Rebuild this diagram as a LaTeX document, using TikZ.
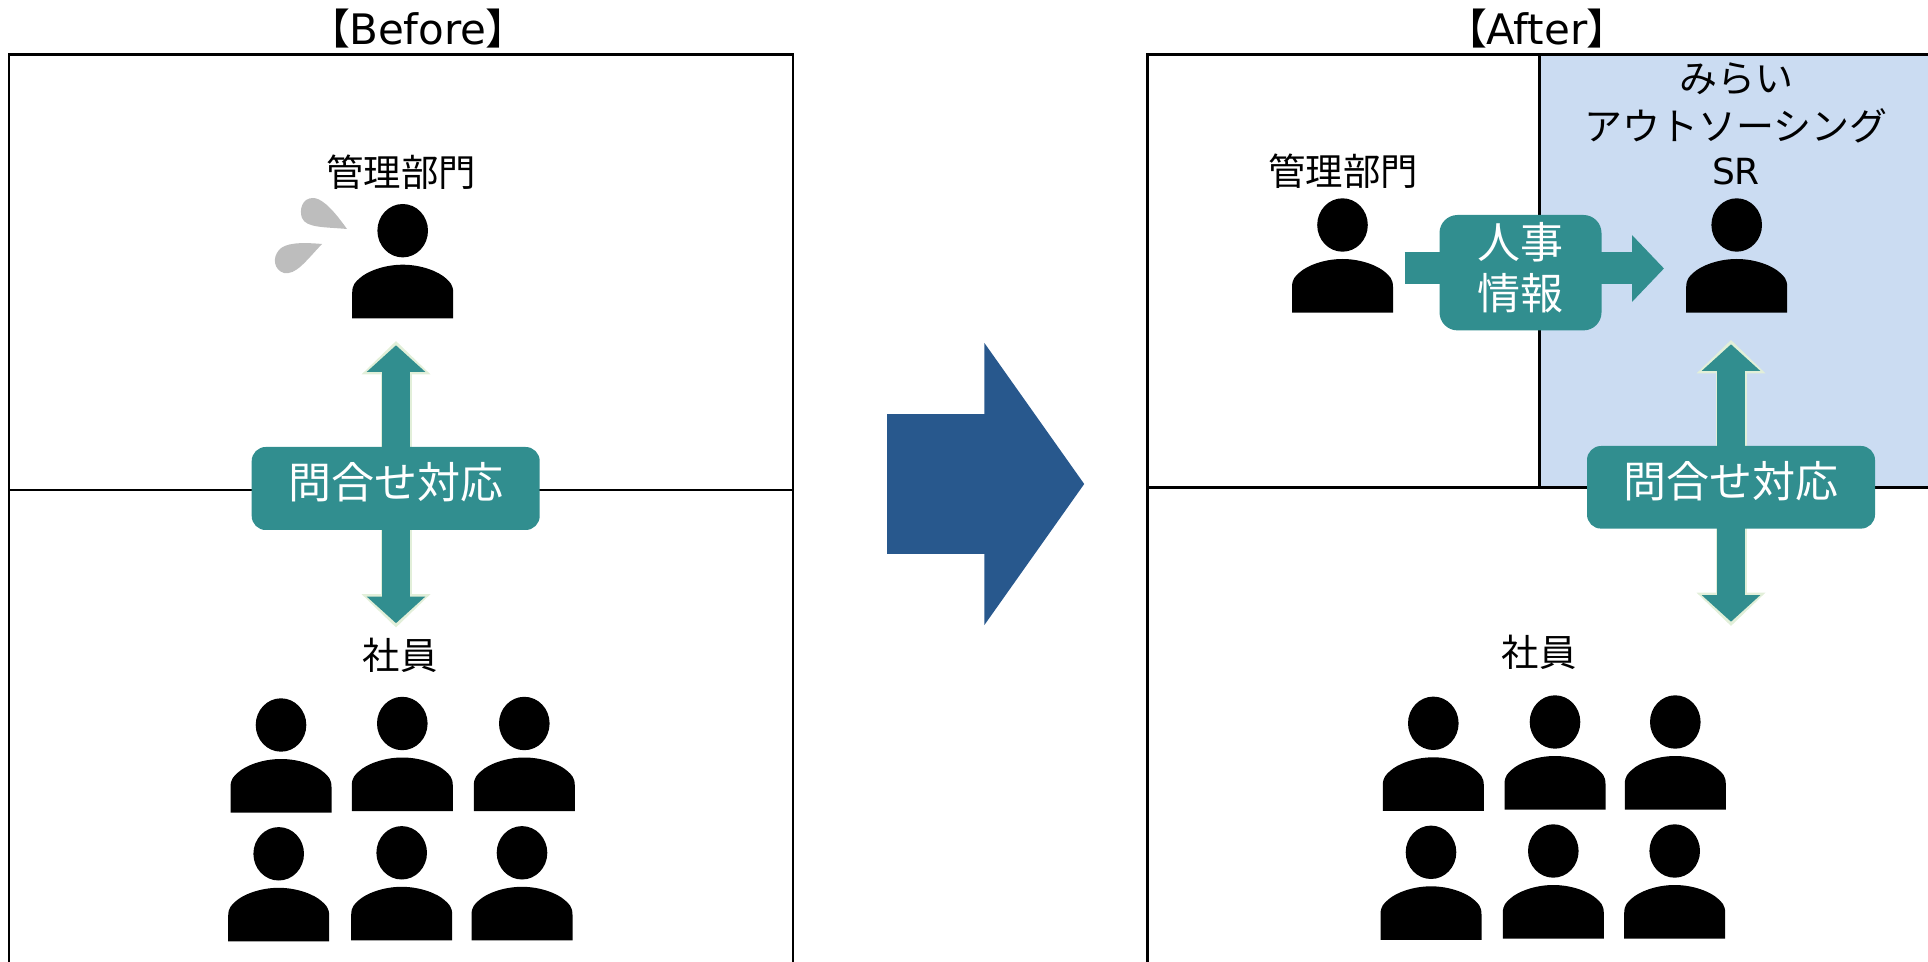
\documentclass[tikz,border=0pt]{standalone}
\usepackage{fontspec}
\setmainfont{Noto Sans CJK JP}
\newfontfamily\titlebr[RawFeature=+palt]{Noto Sans CJK JP}
\newfontfamily\latinfont{DejaVu Sans}
\usetikzlibrary{arrows.meta}
\definecolor{tealbox}{HTML}{318E8F}
\definecolor{paleedge}{HTML}{E2EFD9}
\definecolor{bluearea}{HTML}{CBDCF2}
\definecolor{navyarrow}{HTML}{28588D}
\definecolor{dropgray}{HTML}{BDBDBD}
\newcommand{\lifttext}{\rule[-8pt]{0pt}{0pt}}
\newcommand{\lifthr}{\rule[-7pt]{0pt}{0pt}}
\tikzset{
  person/.pic={
    \fill[black] (0,0) ellipse [x radius=25.3, y radius=26.7];
    \fill[black] (-50.5,87.6) -- (-50.5,62)
      .. controls (-50.5,54) and (-47,51) .. (-43,47.5)
      .. controls (-36,41) and (-19,34) .. (0,34)
      .. controls (19,34) and (36,41) .. (43,47.5)
      .. controls (47,51) and (50.5,54) .. (50.5,62)
      -- (50.5,87.6) -- cycle;
  },
  label18/.style={inner sep=0pt, font=\fontsize{18.7pt}{18.7pt}\selectfont, text=black},
  label19/.style={inner sep=0pt, font=\fontsize{19pt}{19pt}\selectfont, text=black},
  titlelabel/.style={inner sep=0pt, anchor=base, font=\fontsize{21pt}{21pt}\selectfont, text=black},
  infobox/.style={rounded corners=7pt, fill=tealbox, text=white, inner sep=0pt, align=center,
    font=\fontsize{21.5pt}{25.4pt}\selectfont},
  asklink/.style={line width=14pt, draw=tealbox, shorten <=2.15pt, shorten >=2.15pt,
    {Triangle[length=13.3pt,width=28.5pt]}-{Triangle[length=13.3pt,width=28.5pt]},
    preaction={draw=paleedge, line width=15.5pt, shorten <=0pt, shorten >=0pt,
      {Triangle[length=16.7pt,width=33.5pt]}-{Triangle[length=16.7pt,width=33.5pt]}}},
  hrlink/.style={line width=16pt, draw=tealbox, -{Triangle[length=16pt,width=32.5pt]}},
  shiftlink/.style={line width=69.7pt, draw=navyarrow, -{Triangle[length=50pt,width=138.7pt]}},
}
\begin{document}
\begin{tikzpicture}[x=0.5pt,y=-0.5pt]
  \useasboundingbox (0,0) rectangle (1928,962);

  % frames
  \fill[bluearea] (1539.5,54.5) rectangle (1928,487.5);
  \draw[line width=1.1pt] (9,962) -- (9,54.5) -- (793,54.5) -- (793,962);
  \draw[line width=1.1pt] (9,490) -- (793,490);
  \draw[line width=1.1pt] (1147.5,962) -- (1147.5,54.5) -- (1928,54.5);
  \draw[line width=1.1pt] (1147.5,487.5) -- (1928,487.5);
  \draw[line width=1.1pt] (1539.5,54.5) -- (1539.5,487.5);

  % titles
  \node[titlelabel] (beforetitle) at (418,45) {{\titlebr 【}{\latinfont Before}{\titlebr 】}};
  \node[titlelabel] (aftertitle) at (1537,45) {{\titlebr 【}{\latinfont After}{\titlebr 】}};

  % before side
  \node[label18] (beforemgrlabel) at (401,172.7) {管理部門};
  \pic at (402.7,230.7) {person};
  \fill[dropgray] (347,229) .. controls (330,205) and (320,198) .. (313,198)
    .. controls (302,198) and (299,210) .. (302,218)
    .. controls (306,228) and (325,227) .. (347,229) -- cycle;
  \fill[dropgray] (322,244) .. controls (300,242) and (285,243) .. (279,250)
    .. controls (272,258) and (274,270) .. (284,273)
    .. controls (296,275) and (305,262) .. (322,244) -- cycle;
  \node[label18] (beforestafflabel) at (400,655) {社員};
  \pic at (281,725) {person};
  \pic at (402.3,723.5) {person};
  \pic at (524.3,723.5) {person};
  \pic at (278.7,853.8) {person};
  \pic at (401.7,852.8) {person};
  \pic at (522,852.8) {person};

  \coordinate (beforeasktop) at (396,341);
  \coordinate (beforeaskbottom) at (396,627.5);
  \draw[asklink] (beforeaskbottom) -- (beforeasktop);
  \node[infobox, minimum width=144pt, minimum height=41.5pt] (beforeask) at (395.7,488.5) {問合せ対応\lifttext};

  % shift arrow
  \coordinate (shiftfrom) at (887.3,484);
  \coordinate (shiftto) at (1084.3,484);
  \draw[shiftlink] (shiftfrom) -- (shiftto);

  % after side
  \node[label18] (aftermgrlabel) at (1343,171.7) {管理部門};
  \node[label19] (miraiA) at (1736,79) {みらい};
  \node[label19] (miraiB) at (1736,125.5) {アウトソーシング};
  \node[inner sep=0pt, anchor=base, font=\fontsize{18pt}{18pt}\selectfont\latinfont] (srlabel) at (1736,185) {SR};
  \pic at (1342.5,225) {person};
  \pic at (1736.7,225) {person};
  \node[label18] (afterstafflabel) at (1539.3,652.3) {社員};
  \pic at (1433.3,723.3) {person};
  \pic at (1555,722) {person};
  \pic at (1675.3,722) {person};
  \pic at (1431,852.3) {person};
  \pic at (1553.3,851) {person};
  \pic at (1674.7,851) {person};

  \coordinate (hrfrom) at (1404.7,268.5);
  \coordinate (hrto) at (1664,268.5);
  \draw[hrlink] (hrfrom) -- (hrto);
  \node[infobox, rounded corners=9pt, minimum width=81pt, minimum height=57.7pt] (hrbox) at (1520.5,272.7) {人事\\情報\lifthr};

  \coordinate (afterasktop) at (1731,340);
  \coordinate (afteraskbottom) at (1731,626);
  \draw[asklink] (afteraskbottom) -- (afterasktop);
  \node[infobox, minimum width=144pt, minimum height=41.3pt] (afterask) at (1731,487.3) {問合せ対応\lifttext};
\end{tikzpicture}
\end{document}
